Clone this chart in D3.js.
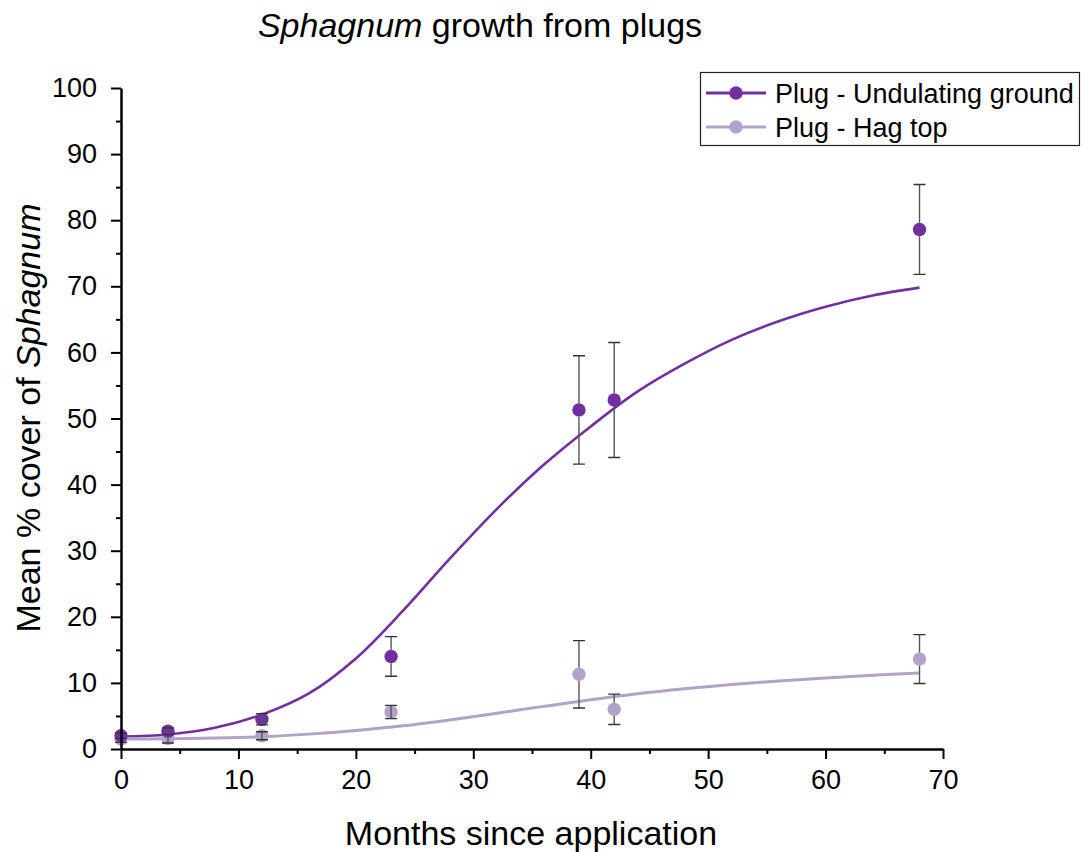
<!DOCTYPE html>
<html>
<head>
<meta charset="utf-8">
<script src="https://cdn.jsdelivr.net/npm/d3@7"></script>
<style>
  body { margin: 0; background: #fff; }
  text { font-family: "Liberation Sans", Arial, sans-serif; fill: #000; }
</style>
</head>
<body>
<div id="chart"></div>
<script>
// ---------- data ----------
var months = [0, 4, 12, 23, 39, 42, 68];
var undulatingMean = [2.0, 2.7, 4.5, 14.0, 51.3, 52.8, 78.6];
var undulatingErr = [0.4, 0.5, 0.85, 3.0, 8.2, 8.7, 6.8];
var hagMean = [1.5, 1.6, 2.0, 5.6, 11.3, 6.0, 13.6];
var hagErr = [0.5, 0.7, 0.6, 1.0, 5.1, 2.3, 3.7];

// fitted curves
var fitMonths = [0, 4, 8, 12, 16, 20, 24, 28, 32, 36, 40, 44, 48, 52, 56, 60, 64, 68];
var undulatingFit = [1.9, 2.2, 3.2, 5.2, 8.4, 13.7, 20.9, 28.8, 36.3, 43.0, 48.8, 54.1, 58.3, 61.9, 64.7, 66.9, 68.6, 69.8];
var hagFit = [1.5, 1.55, 1.65, 1.85, 2.25, 2.8, 3.5, 4.4, 5.4, 6.45, 7.45, 8.35, 9.1, 9.75, 10.3, 10.75, 11.15, 11.5];

var seriesNames = ["Plug - Undulating ground", "Plug - Hag top"];
var seriesColors = ["#7030a0", "#b3a2c8"];

var xTicks = [0, 10, 20, 30, 40, 50, 60, 70];
var yTicks = [0, 10, 20, 30, 40, 50, 60, 70, 80, 90, 100];

// ---------- layout ----------
var width = 1083, height = 852;
var x = d3.scaleLinear().domain([0, 70]).range([121, 943]);
var y = d3.scaleLinear().domain([0, 100]).range([749, 88]);

var svg = d3.select("#chart").append("svg")
    .attr("width", width)
    .attr("height", height);

// fitted lines
var line = d3.line()
    .x(function (d) { return x(d[0]); })
    .y(function (d) { return y(d[1]); })
    .curve(d3.curveCatmullRom.alpha(0.5));

var fits = [undulatingFit, hagFit];
fits.forEach(function (f, i) {
    svg.append("path")
        .datum(fitMonths.map(function (m, j) { return [m, f[j]]; }))
        .attr("d", line)
        .attr("fill", "none")
        .attr("stroke", seriesColors[i])
        .attr("stroke-width", i == 0 ? 2.6 : 3);
});

// points + error bars, hag top first so undulating sits on top
var r = 6.7;
var series = [
    { mean: hagMean, err: hagErr, color: seriesColors[1] },
    { mean: undulatingMean, err: undulatingErr, color: seriesColors[0] }
];

series.forEach(function (s) {
    var pts = months.map(function (m, i) { return { m: m, v: s.mean[i], e: s.err[i] }; });
    var g = svg.append("g");
    g.selectAll("circle").data(pts).enter().append("circle")
        .attr("cx", function (d) { return x(d.m); })
        .attr("cy", function (d) { return y(d.v); })
        .attr("r", r)
        .attr("fill", s.color);

    var eb = g.selectAll(".err").data(pts).enter().append("g")
        .attr("stroke", "#333")
        .attr("stroke-width", 1.4);
    // vertical part: stop at the symbol edge unless the bar is shorter than the symbol
    eb.append("path")
        .attr("d", function (d) {
            var cx = x(d.m), cy = y(d.v), top = y(d.v + d.e), bot = y(d.v - d.e);
            if (cy - top <= r) return "M" + cx + "," + top + "V" + bot;
            return "M" + cx + "," + top + "V" + (cy - r) + "M" + cx + "," + (cy + r) + "V" + bot;
        })
        .attr("stroke", "#555");
    eb.append("path")
        .attr("d", function (d) {
            var cx = x(d.m);
            return "M" + (cx - 6) + "," + y(d.v + d.e) + "H" + (cx + 6) +
                "M" + (cx - 6) + "," + y(d.v - d.e) + "H" + (cx + 6);
        });
});

// ---------- axes ----------
var yAxis = svg.append("g")
    .attr("transform", "translate(121,0)")
    .call(d3.axisLeft(y).tickValues(yTicks).tickSize(10).tickSizeOuter(0).tickPadding(14));
var yMinor = svg.append("g")
    .attr("transform", "translate(121,0)")
    .call(d3.axisLeft(y).tickValues(d3.range(5, 100, 10)).tickSize(5).tickFormat(""));
yMinor.select(".domain").remove();

var xAxis = svg.append("g")
    .attr("transform", "translate(0,749)")
    .call(d3.axisBottom(x).tickValues(xTicks).tickSize(10).tickSizeOuter(0).tickPadding(11));
var xMinor = svg.append("g")
    .attr("transform", "translate(0,749)")
    .call(d3.axisBottom(x).tickValues(d3.range(5, 70, 10)).tickSize(5).tickFormat(""));
xMinor.select(".domain").remove();

svg.selectAll(".domain").attr("stroke", "#000").attr("stroke-width", 2.5);
svg.selectAll(".tick line").attr("stroke", "#000").attr("stroke-width", 2);
svg.selectAll(".tick text")
    .style("font-family", "'Liberation Sans', Arial, sans-serif")
    .style("font-size", "27px")
    .attr("fill", "#000");

// ---------- titles ----------
var title = svg.append("text")
    .attr("x", 480).attr("y", 37)
    .attr("text-anchor", "middle")
    .style("font-size", "34px");
title.append("tspan").style("font-style", "italic").text("Sphagnum");
title.append("tspan").text(" growth from plugs");

svg.append("text")
    .attr("x", 531).attr("y", 845)
    .attr("text-anchor", "middle")
    .style("font-size", "34px")
    .text("Months since application");

var yl = svg.append("text")
    .attr("transform", "translate(40,418) rotate(-90)")
    .attr("text-anchor", "middle")
    .style("font-size", "34px");
yl.append("tspan").text("Mean % cover of ");
yl.append("tspan").style("font-style", "italic").text("Sphagnum");

// ---------- legend ----------
var legend = svg.append("g");
legend.append("rect")
    .attr("x", 700.5).attr("y", 72.5)
    .attr("width", 379).attr("height", 73)
    .attr("fill", "#fff")
    .attr("stroke", "#222")
    .attr("stroke-width", 1.2);

seriesNames.forEach(function (name, i) {
    var ly = 93 + i * 34;
    legend.append("line")
        .attr("x1", 706).attr("x2", 766)
        .attr("y1", ly).attr("y2", ly)
        .attr("stroke", seriesColors[i])
        .attr("stroke-width", 3);
    legend.append("circle")
        .attr("cx", 736).attr("cy", ly).attr("r", r)
        .attr("fill", seriesColors[i]);
    legend.append("text")
        .attr("x", 775).attr("y", ly + 9.5)
        .style("font-size", "27px")
        .text(name);
});
</script>
</body>
</html>
